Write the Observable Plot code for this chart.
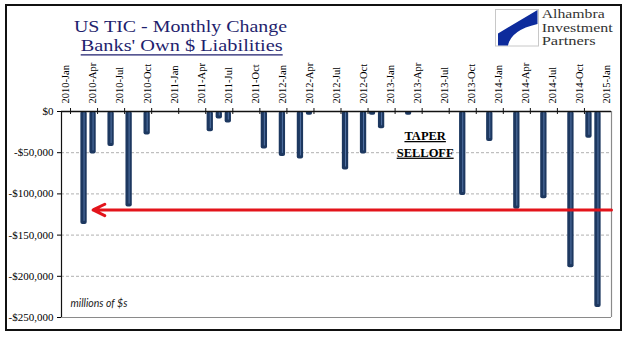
<!DOCTYPE html>
<html><head><meta charset="utf-8">
<script src="https://cdn.jsdelivr.net/npm/d3@7"></script>
<script src="https://cdn.jsdelivr.net/npm/@observablehq/plot@0.6"></script>
<style>
html,body{margin:0;padding:0;background:#fff;}
#wrap{position:relative;width:641px;height:341px;overflow:hidden;background:#fff;color:#000;}
#chart{position:absolute;left:0;top:0;}
#frame{position:absolute;left:5px;top:4px;width:617px;height:327px;box-sizing:border-box;border:2px solid #111;pointer-events:none;}
#overlay{position:absolute;left:0;top:0;pointer-events:none;}
</style></head>
<body>
<div id="wrap">
<div id="chart"></div>
<div id="frame"></div>
<svg id="overlay" width="641" height="341">
  <g font-family="Liberation Serif, 'Times New Roman', serif" fill="#1f1f6e">
    <text x="180.5" y="32" font-size="17" text-anchor="middle" textLength="213" lengthAdjust="spacingAndGlyphs">US TIC - Monthly Change</text>
    <text x="181.7" y="51" font-size="17" text-anchor="middle" textLength="202" lengthAdjust="spacingAndGlyphs">Banks' Own $ Liabilities</text>
    <line x1="80.7" x2="282.7" y1="54.8" y2="54.8" stroke="#1f1f6e" stroke-width="1.2"/>
  </g>
  <rect x="495.5" y="9.5" width="43" height="36.5" fill="#fff" stroke="#c8c8c8"/>
  <path d="M537.5,10 L498,33.5 L498,45.5 L508,45.5 Q511,30 537.5,24 Z" fill="#0d2b9c"/>
  <g font-family="Liberation Serif, 'Times New Roman', serif" font-size="12" fill="#333">
    <text x="541.7" y="18.3" textLength="63" lengthAdjust="spacingAndGlyphs">Alhambra</text>
    <text x="541.7" y="31.7" textLength="71" lengthAdjust="spacingAndGlyphs">Investment</text>
    <text x="541.7" y="45" textLength="54" lengthAdjust="spacingAndGlyphs">Partners</text>
  </g>
</svg>
</div>
<script>
// Quarterly tick labels (every 3 months starting 2010-Jan)
const quarterLabels = ["2010-Jan","2010-Apr","2010-Jul","2010-Oct","2011-Jan","2011-Apr","2011-Jul","2011-Oct",
  "2012-Jan","2012-Apr","2012-Jul","2012-Oct","2013-Jan","2013-Apr","2013-Jul","2013-Oct",
  "2014-Jan","2014-Apr","2014-Jul","2014-Oct","2015-Jan"];

// Monthly change, millions of $ (index 0 = 2010-Jan ... 60 = 2015-Jan); 0 = not visible (>= 0)
const values = [
  0, 0, -137000, -51500, 0, -42500, 0, -116000, 0, -28500, 0, 0,          // 2010
  0, 0, 0, 0, -24500, -9000, -14000, 0, 0, 0, -45500, 0,                  // 2011
  -54500, 0, -57500, -4500, 0, 0, 0, -71000, 0, -51500, -4500, -21000,    // 2012
  0, 0, -4500, 0, 0, 0, 0, 0, -102000, 0, 0, -36500,                      // 2013
  0, 0, -118500, 0, 0, -106000, 0, 0, -189500, 0, -32500, -238000,        // 2014
  null                                                                      // 2015-Jan
];

const yTicks = [0, -50000, -100000, -150000, -200000, -250000];
const gridLines = [-50000, -100000, -150000, -200000];
const annotations = [
  {i: 40, v: -34600, text: "TAPER"},
  {i: 40, v: -54800, text: "SELLOFF"}
];
const arrowSpec = [{from: 60.5, to: 3, v: -119500}];
const unitNote = ["millions of $s"];

const months = values.map((v, i) => ({i, v}));
const bars = months.filter(d => d.v != null && d.v !== 0);
const quarterIdx = quarterLabels.map((_, k) => k * 3);
const tickBoundaries = quarterIdx.slice(0, -1).map(i => i + 0.5);
const yFmt = d => d === 0 ? "$0" : "-$" + d3.format(",")(-d);

const chart = Plot.plot({
  width: 641, height: 341,
  marginLeft: 61, marginRight: 30, marginTop: 111, marginBottom: 24,
  x: {type: "linear", domain: [-0.5, 60.5]},
  y: {domain: [-250000, 0]},
  style: {fontFamily: "'Liberation Serif', 'Times New Roman', serif", background: "transparent", color: "#000"},
  marks: [
    Plot.ruleY(gridLines, {stroke: "#b0b0b0", strokeDasharray: "3,2", strokeWidth: 1}),
    Plot.ruleY([-250000], {stroke: "#8a8a8a", strokeWidth: 1.2}),
    Plot.ruleX([60.5], {stroke: "#8a8a8a", strokeWidth: 1.2}),
    Plot.rectY(bars, {x1: d => d.i - 0.35, x2: d => d.i + 0.35, y1: 0, y2: "v", fill: "#1d3860", rx: 2}),
    Plot.ruleX(bars, {x: "i", y1: 0, y2: "v", insetBottom: 3, stroke: "#6a8cc0", strokeOpacity: 0.7, strokeWidth: 1}),
    Plot.ruleY([0], {stroke: "#111", strokeWidth: 1.5}),
    Plot.ruleX(tickBoundaries, {x: d => d, y1: 0, y2: 0, insetTop: -3, insetBottom: -3, stroke: "#111"}),
    Plot.ruleX([-0.5], {stroke: "#111", strokeWidth: 1.2}),
    Plot.axisY({ticks: yTicks, tickFormat: yFmt, tickSize: 4, tickPadding: 4, fontSize: 11, label: null}),
    Plot.axisX({anchor: "top", ticks: quarterIdx, tickFormat: i => quarterLabels[i / 3], tickRotate: -90,
      tickSize: 0, tickPadding: 8, fontSize: 10.5, label: null}),
    Plot.arrow(arrowSpec, {x1: "from", x2: "to", y1: "v", y2: "v", stroke: "#e3141b", strokeWidth: 3,
      headLength: 6.5, headAngle: 52}),
    Plot.text(annotations, {x: "i", y: "v", text: "text", dx: -1.5, lineAnchor: "bottom", textAnchor: "middle",
      fontWeight: "bold", fontSize: 12.5, fill: "#000"}),
    Plot.text(unitNote, {frameAnchor: "bottom-left", dx: 9, dy: -11, text: d => d, fontStyle: "italic",
      fontFamily: "Lato, 'Open Sans', sans-serif", fontSize: 10.5, fill: "#222"})
  ]
});
d3.select(chart).selectAll("text")
  .filter(function() { return this.textContent === "TAPER" || this.textContent === "SELLOFF"; })
  .style("text-decoration", "underline");
document.getElementById("chart").appendChild(chart);
</script>
</body></html>
